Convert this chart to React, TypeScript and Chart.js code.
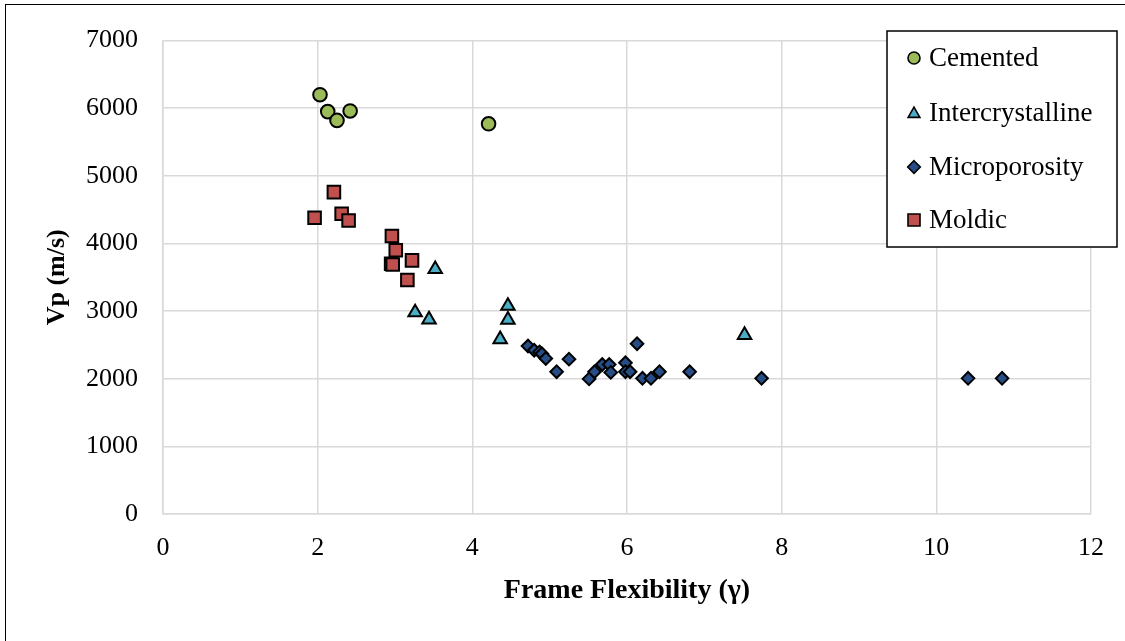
import { useEffect, useRef } from 'react';
import { Chart, registerables } from 'chart.js';

Chart.register(...registerables);

// Frame flexibility (γ) versus P-wave velocity, grouped by pore type
const seriesNames = ['Cemented', 'Intercrystalline', 'Microporosity', 'Moldic'];

const cementedGamma = [2.03, 2.13, 2.25, 2.42, 4.21];
const cementedVp = [6200, 5950, 5820, 5960, 5770];

const intercrystallineGamma = [3.52, 3.26, 3.44, 4.46, 4.46, 4.36, 7.52];
const intercrystallineVp = [3620, 2980, 2875, 3076, 2871, 2583, 2646];

const microporosityGamma = [
  4.72, 4.8, 4.87, 4.9, 4.95, 5.25, 5.09, 5.51, 5.58, 5.68, 5.77, 5.79,
  5.98, 5.98, 6.04, 6.13, 6.2, 6.31, 6.42, 6.81, 7.74, 10.41, 10.85,
];
const microporosityVp = [
  2484, 2421, 2397, 2370, 2299, 2290, 2104, 1998, 2104, 2211, 2211, 2094,
  2236, 2104, 2104, 2518, 2006, 2006, 2104, 2104, 2006, 2006, 2006,
];

const moldicGamma = [1.96, 2.21, 2.31, 2.4, 2.96, 3.01, 2.95, 2.97, 3.22, 3.16];
const moldicVp = [4380, 4760, 4440, 4340, 4110, 3900, 3700, 3690, 3750, 3460];

const xTickValues = [0, 2, 4, 6, 8, 10, 12];
const yTickValues = [0, 1000, 2000, 3000, 4000, 5000, 6000, 7000];

const xTitle = 'Frame Flexibility (γ)';
const yTitle = 'Vp (m/s)';

const fillColors = ['#9BBB59', '#4BACC6', '#264D85', '#C0504D'];
const pointStyles = ['circle', 'triangle', 'rectRot', 'rect'] as const;
const pointRadii = [6.8, 7.8, 6.3, 8.9];

const SERIF = '"Liberation Serif", "Times New Roman", serif';
const GRID = '#D9D9D9';

const toPoints = (xs: number[], ys: number[]) => xs.map((x, i) => ({ x, y: ys[i] }));

// Boxed legend drawn over the upper-right corner of the plot
const legendPlugin = {
  id: 'boxedLegend',
  afterDraw(chart: Chart) {
    const ctx = chart.ctx;
    const left = 887;
    const top = 31;
    const right = 1117;
    const bottom = 247;
    ctx.save();
    ctx.fillStyle = '#FFFFFF';
    ctx.fillRect(left, top, right - left, bottom - top);
    ctx.strokeStyle = '#000000';
    ctx.lineWidth = 1.5;
    ctx.strokeRect(left, top, right - left, bottom - top);

    const markerX = 914;
    const textX = 929;
    const rowY = [58, 113, 167, 220];
    seriesNames.forEach((name, i) => {
      const y = rowY[i];
      ctx.fillStyle = fillColors[i];
      ctx.strokeStyle = '#000000';
      ctx.lineWidth = 1.6;
      ctx.lineJoin = 'miter';
      ctx.beginPath();
      const style = pointStyles[i];
      if (style === 'circle') {
        ctx.arc(markerX, y, 6, 0, Math.PI * 2);
      } else if (style === 'triangle') {
        const r = 6.8;
        ctx.moveTo(markerX, y - r + 1);
        ctx.lineTo(markerX + r * 0.866, y + r / 2 + 1);
        ctx.lineTo(markerX - r * 0.866, y + r / 2 + 1);
        ctx.closePath();
      } else if (style === 'rectRot') {
        const r = 6.3;
        ctx.moveTo(markerX, y - r);
        ctx.lineTo(markerX + r, y);
        ctx.lineTo(markerX, y + r);
        ctx.lineTo(markerX - r, y);
        ctx.closePath();
      } else {
        ctx.rect(markerX - 6, y - 6, 12, 12);
      }
      ctx.fill();
      ctx.stroke();

      ctx.fillStyle = '#000000';
      ctx.font = `27px ${SERIF}`;
      ctx.textAlign = 'left';
      ctx.textBaseline = 'middle';
      ctx.fillText(name, textX, y + 1);
    });
    ctx.restore();
  },
};

function ScatterChart() {
  const canvasRef = useRef<HTMLCanvasElement | null>(null);

  useEffect(() => {
    const canvas = canvasRef.current;
    if (!canvas) return;

    const seriesData = [
      toPoints(cementedGamma, cementedVp),
      toPoints(intercrystallineGamma, intercrystallineVp),
      toPoints(microporosityGamma, microporosityVp),
      toPoints(moldicGamma, moldicVp),
    ];

    const chart = new Chart(canvas, {
      type: 'scatter',
      data: {
        datasets: seriesNames.map((name, i) => ({
          label: name,
          data: seriesData[i],
          pointStyle: pointStyles[i],
          pointRadius: pointRadii[i],
          pointHoverRadius: pointRadii[i],
          backgroundColor: fillColors[i],
          borderColor: '#000000',
          pointBorderWidth: 2,
          borderWidth: 2,
        })),
      },
      options: {
        responsive: false,
        animation: false,
        layout: { padding: { left: 0, right: 34, top: 35, bottom: 0 } },
        plugins: {
          legend: { display: false },
          tooltip: { enabled: false },
        },
        scales: {
          x: {
            type: 'linear',
            min: 0,
            max: 12,
            afterBuildTicks: (scale: any) => {
              scale.ticks = xTickValues.map((v) => ({ value: v }));
            },
            afterFit: (scale: any) => {
              scale.height = 127;
            },
            grid: { color: GRID, lineWidth: 1.5, drawTicks: false },
            border: { color: GRID, width: 1.5 },
            ticks: {
              color: '#000000',
              padding: 19,
              font: { family: SERIF, size: 26 },
              maxRotation: 0,
              callback: (v: any) => String(v),
            },
            title: {
              display: true,
              text: xTitle,
              color: '#000000',
              font: { family: SERIF, size: 28, weight: 'bold' },
              padding: { top: 0, bottom: 33 },
            },
          },
          y: {
            type: 'linear',
            min: 0,
            max: 7000,
            afterBuildTicks: (scale: any) => {
              scale.ticks = yTickValues.map((v) => ({ value: v }));
            },
            afterFit: (scale: any) => {
              scale.width = 163;
            },
            grid: { color: GRID, lineWidth: 1.5, drawTicks: false },
            border: { color: GRID, width: 1.5 },
            ticks: {
              color: '#000000',
              padding: 25,
              font: { family: SERIF, size: 26 },
              callback: (v: any) => String(v),
            },
            title: {
              display: true,
              text: yTitle,
              color: '#000000',
              font: { family: SERIF, size: 26, weight: 'bold' },
              padding: { top: 42, bottom: 0 },
            },
          },
        },
      },
      plugins: [legendPlugin],
    });

    return () => chart.destroy();
  }, []);

  return <canvas ref={canvasRef} width={1125} height={641} style={{ display: 'block' }} />;
}

export default function App() {
  return (
    <div
      style={{
        position: 'fixed',
        left: 0,
        top: 0,
        width: 1125,
        height: 641,
        background: '#FFFFFF',
        overflow: 'hidden',
      }}
    >
      <ScatterChart />
      <div
        style={{
          position: 'absolute',
          left: 5,
          top: 4,
          width: 1200,
          height: 700,
          border: '1.5px solid #000000',
          pointerEvents: 'none',
        }}
      />
    </div>
  );
}
